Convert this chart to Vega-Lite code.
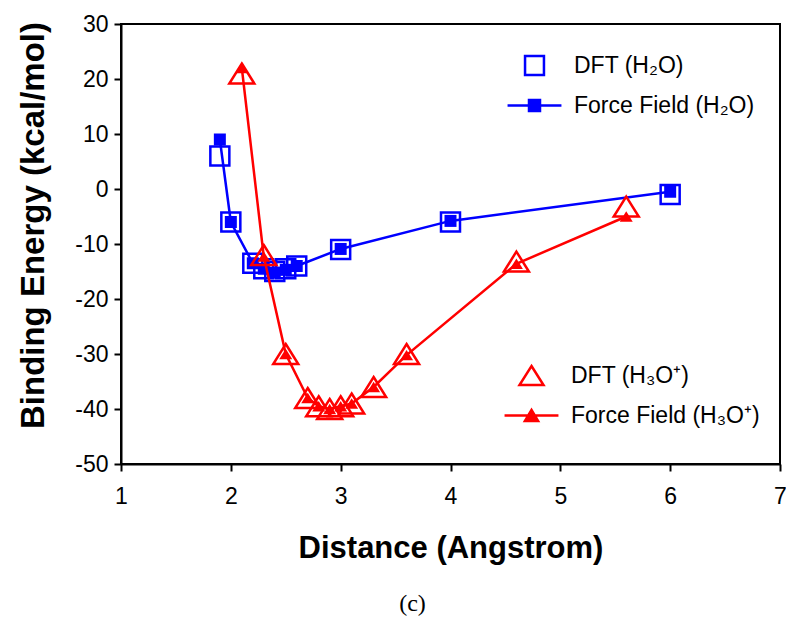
{
  "$schema": "https://vega.github.io/schema/vega-lite/v6.json",
  "width": 659,
  "height": 440,
  "autosize": {"type": "none"},
  "padding": {"left": 121, "top": 24, "right": 6, "bottom": 162},
  "background": "white",
  "config": {
    "view": {"stroke": "black", "strokeWidth": 2},
    "font": "Liberation Sans"
  },
  "title": {
    "text": "(c)",
    "orient": "bottom",
    "anchor": "middle",
    "font": "Liberation Serif",
    "fontSize": 24,
    "fontWeight": "normal",
    "color": "black",
    "dx": -38,
    "offset": 29
  },
  "data": {
    "values": [
      {"series": "DFT (H₂O)", "x": 1.9, "y": 6},
      {"series": "DFT (H₂O)", "x": 2.0, "y": -6},
      {"series": "DFT (H₂O)", "x": 2.2, "y": -13.5},
      {"series": "DFT (H₂O)", "x": 2.3, "y": -14.5},
      {"series": "DFT (H₂O)", "x": 2.4, "y": -15},
      {"series": "DFT (H₂O)", "x": 2.5, "y": -14.5},
      {"series": "DFT (H₂O)", "x": 2.6, "y": -14},
      {"series": "DFT (H₂O)", "x": 3.0, "y": -11},
      {"series": "DFT (H₂O)", "x": 4.0, "y": -6},
      {"series": "DFT (H₂O)", "x": 6.0, "y": -1},
      {"series": "Force Field (H₂O)", "x": 1.9, "y": 9},
      {"series": "Force Field (H₂O)", "x": 2.0, "y": -6},
      {"series": "Force Field (H₂O)", "x": 2.2, "y": -13.5},
      {"series": "Force Field (H₂O)", "x": 2.3, "y": -14.5},
      {"series": "Force Field (H₂O)", "x": 2.4, "y": -15.2},
      {"series": "Force Field (H₂O)", "x": 2.5, "y": -14.7},
      {"series": "Force Field (H₂O)", "x": 2.6, "y": -14},
      {"series": "Force Field (H₂O)", "x": 3.0, "y": -10.9},
      {"series": "Force Field (H₂O)", "x": 4.0, "y": -5.8},
      {"series": "Force Field (H₂O)", "x": 6.0, "y": -0.5},
      {"series": "DFT (H₃O⁺)", "x": 2.1, "y": 21},
      {"series": "DFT (H₃O⁺)", "x": 2.3, "y": -12},
      {"series": "DFT (H₃O⁺)", "x": 2.5, "y": -30},
      {"series": "DFT (H₃O⁺)", "x": 2.7, "y": -38},
      {"series": "DFT (H₃O⁺)", "x": 2.8, "y": -39.5},
      {"series": "DFT (H₃O⁺)", "x": 2.9, "y": -40},
      {"series": "DFT (H₃O⁺)", "x": 3.0, "y": -39.5},
      {"series": "DFT (H₃O⁺)", "x": 3.1, "y": -39},
      {"series": "DFT (H₃O⁺)", "x": 3.3, "y": -36},
      {"series": "DFT (H₃O⁺)", "x": 3.6, "y": -30},
      {"series": "DFT (H₃O⁺)", "x": 4.6, "y": -13.2},
      {"series": "DFT (H₃O⁺)", "x": 5.6, "y": -3.2},
      {"series": "Force Field (H₃O⁺)", "x": 2.1, "y": 22},
      {"series": "Force Field (H₃O⁺)", "x": 2.3, "y": -12.3},
      {"series": "Force Field (H₃O⁺)", "x": 2.5, "y": -30},
      {"series": "Force Field (H₃O⁺)", "x": 2.7, "y": -38},
      {"series": "Force Field (H₃O⁺)", "x": 2.8, "y": -39.5},
      {"series": "Force Field (H₃O⁺)", "x": 2.9, "y": -40},
      {"series": "Force Field (H₃O⁺)", "x": 3.0, "y": -39.5},
      {"series": "Force Field (H₃O⁺)", "x": 3.1, "y": -39},
      {"series": "Force Field (H₃O⁺)", "x": 3.3, "y": -36},
      {"series": "Force Field (H₃O⁺)", "x": 3.6, "y": -30.2},
      {"series": "Force Field (H₃O⁺)", "x": 4.6, "y": -13.6},
      {"series": "Force Field (H₃O⁺)", "x": 5.6, "y": -5}
    ]
  },
  "encoding": {
    "x": {
      "field": "x", "type": "quantitative",
      "scale": {"domain": [1, 7], "nice": false, "zero": false},
      "axis": {
        "values": [1, 2, 3, 4, 5, 6, 7],
        "grid": false,
        "labelExpr": "toString(datum.value)",
        "domainColor": "black", "domainWidth": 2,
        "tickColor": "black", "tickWidth": 2, "tickSize": 7,
        "labelColor": "black", "labelFontSize": 23, "labelFont": "Liberation Sans", "labelPadding": 14,
        "labelFlush": false,
        "title": "Distance (Angstrom)",
        "titleColor": "black", "titleFontSize": 31, "titleFont": "Liberation Sans", "titleFontWeight": "bold",
        "titlePadding": 25
      }
    },
    "y": {
      "field": "y", "type": "quantitative",
      "scale": {"domain": [-50, 30], "nice": false, "zero": false},
      "axis": {
        "values": [-50, -40, -30, -20, -10, 0, 10, 20, 30],
        "grid": false,
        "labelExpr": "toString(datum.value)",
        "domainColor": "black", "domainWidth": 2,
        "tickColor": "black", "tickWidth": 2, "tickSize": 7,
        "labelColor": "black", "labelFontSize": 23, "labelFont": "Liberation Sans", "labelPadding": 6,
        "labelFlush": false,
        "title": "Binding Energy (kcal/mol)",
        "titleColor": "black", "titleFontSize": 33, "titleFont": "Liberation Sans", "titleFontWeight": "bold",
        "titlePadding": 24,
        "titleY": 201
      }
    }
  },
  "layer": [
    {
      "encoding": {
        "color": {
          "field": "series", "type": "nominal",
          "scale": {"domain": ["DFT (H₂O)", "Force Field (H₂O)"], "range": ["#0000ff", "#0000ff"]},
          "legend": {
            "title": null,
            "orient": "none",
            "legendX": 401,
            "legendY": 29,
            "padding": 0,
            "symbolSize": 484,
            "labelFont": "Liberation Sans",
            "labelFontSize": 23,
            "labelColor": "black",
            "labelOffset": 27,
            "rowPadding": 13,
            "labelLimit": 300,
            "encode": {
              "symbols": {
                "update": {
                  "shape": {"signal": "indexof(datum.value, 'DFT') == 0 ? 'M-0.86,-0.86H0.86V0.86H-0.86Z' : 'M-2.45,0H2.45M-0.5,-0.5H0.5V0.5H-0.5Z'"},
                  "fill": {"value": "#0000ff"},
                  "fillOpacity": {"signal": "indexof(datum.value, 'DFT') == 0 ? 0 : 1"},
                  "stroke": {"value": "#0000ff"},
                  "strokeWidth": {"value": 2.5},
                  "opacity": {"value": 1}
                }
              }
            }
          }
        }
      },
      "layer": [
        {
          "transform": [{"filter": "datum.series == 'DFT (H₂O)'"}],
          "mark": {"type": "point", "shape": "M-1,-1H1V1H-1Z", "size": 361, "filled": false, "strokeWidth": 2.5, "opacity": 1}
        },
        {
          "transform": [{"filter": "datum.series == 'Force Field (H₂O)'"}],
          "mark": {"type": "line", "strokeWidth": 2.5}
        },
        {
          "transform": [{"filter": "datum.series == 'Force Field (H₂O)'"}],
          "mark": {"type": "point", "shape": "M-1,-1H1V1H-1Z", "size": 144, "filled": true, "opacity": 1}
        }
      ]
    },
    {
      "encoding": {
        "color": {
          "field": "series", "type": "nominal",
          "scale": {"domain": ["DFT (H₃O⁺)", "Force Field (H₃O⁺)"], "range": ["#ff0000", "#ff0000"]},
          "legend": {
            "title": null,
            "orient": "none",
            "legendX": 398,
            "legendY": 339,
            "padding": 0,
            "symbolSize": 484,
            "labelFont": "Liberation Sans",
            "labelFontSize": 23,
            "labelColor": "black",
            "labelOffset": 27,
            "rowPadding": 13,
            "labelLimit": 300,
            "encode": {
              "symbols": {
                "update": {
                  "shape": {"signal": "indexof(datum.value, 'DFT') == 0 ? 'M0,-0.86L1.09,0.86L-1.09,0.86Z' : 'M-2.45,0H2.45M0,-0.5L0.6,0.5L-0.6,0.5Z'"},
                  "fill": {"value": "#ff0000"},
                  "fillOpacity": {"signal": "indexof(datum.value, 'DFT') == 0 ? 0 : 1"},
                  "stroke": {"value": "#ff0000"},
                  "strokeWidth": {"value": 2.5},
                  "opacity": {"value": 1}
                }
              }
            }
          }
        }
      },
      "layer": [
        {
          "transform": [{"filter": "datum.series == 'DFT (H₃O⁺)'"}],
          "mark": {"type": "point", "shape": "M0,-0.8L1,0.8L-1,0.8Z", "size": 625, "filled": false, "strokeWidth": 2.5, "opacity": 1}
        },
        {
          "transform": [{"filter": "datum.series == 'Force Field (H₃O⁺)'"}],
          "mark": {"type": "line", "strokeWidth": 2.5}
        },
        {
          "transform": [{"filter": "datum.series == 'Force Field (H₃O⁺)'"}],
          "mark": {"type": "point", "shape": "M0,-0.8L1,0.8L-1,0.8Z", "size": 169, "filled": true, "opacity": 1}
        }
      ]
    }
  ],
  "resolve": {"scale": {"color": "independent"}, "legend": {"color": "independent"}}
}
